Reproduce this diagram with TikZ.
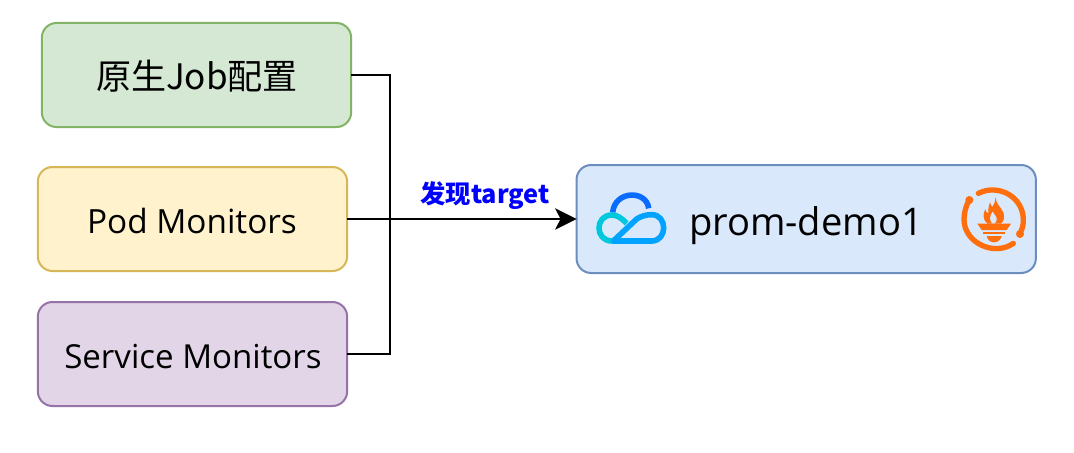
\documentclass[tikz,border=0pt]{standalone}
\usepackage{fontspec}
\setmainfont{Open Sans}
\newfontfamily\cjk{Noto Sans CJK SC}
\usetikzlibrary{arrows.meta}
\definecolor{jobfill}{HTML}{D5E8D4}
\definecolor{jobline}{HTML}{82B366}
\definecolor{podfill}{HTML}{FFF2CC}
\definecolor{podline}{HTML}{D6B656}
\definecolor{svcfill}{HTML}{E1D5E7}
\definecolor{svcline}{HTML}{9673A6}
\definecolor{promfill}{HTML}{DAE8FC}
\definecolor{promline}{HTML}{6C8EBF}
\definecolor{iconblue}{HTML}{0A6CFF}
\definecolor{iconsky}{HTML}{00A3FF}
\definecolor{iconcyan}{HTML}{00C8DC}
\definecolor{promorange}{HTML}{FF6E0D}
\begin{document}
\begin{tikzpicture}[x=0.75pt,y=-0.75pt,
  boxnode/.style={rectangle, rounded corners=11pt, line width=1.5pt, outer sep=0pt, minimum width=232pt, minimum height=78pt, inner sep=0pt},
  linkline/.style={line width=2pt, draw=black},
  cloudline/.style={line width=4.2pt},
  ringline/.style={line width=4pt, line cap=round, draw=promorange}]
\useasboundingbox (0,0) rectangle (1074,453);
\node[boxnode, draw=jobline, fill=jobfill] (Job) at (196.5,75) {};
\node[boxnode, draw=podline, fill=podfill] (Pod) at (192.5,219) {};
\node[boxnode, draw=svcline, fill=svcfill] (Service) at (192.5,354) {};
\node[boxnode, minimum width=344.5pt, minimum height=81pt, draw=promline, fill=promfill] (Prom) at (806.2,219) {};
\node[font=\cjk\fontsize{26.3}{30}\selectfont] (JobText) at (197,76) {原生Job配置};
\node[font=\fontsize{25}{30}\selectfont] (PodText) at (192,221) {Pod Monitors};
\node[font=\fontsize{24.8}{30}\selectfont] (ServiceText) at (193,357) {Service Monitors};
\node[font=\fontsize{28.6}{34}\selectfont] (PromText) at (806,226) {prom-demo1};
\node[font=\cjk\bfseries\fontsize{19}{22}\selectfont, text=blue] (Found) at (485,196) {发现target};
\coordinate (Join) at (390,219);
\draw[linkline] (Job.east) -| (Join);
\draw[linkline] (Service.east) -| (Join);
\draw[linkline, -{Stealth[length=16pt,width=16pt,inset=4pt]}] (Pod.east) -- (Prom.west);
\begin{scope}[shift={(570,155)},x=0.25pt,y=-0.25pt]
\draw[cloudline, iconblue] (128,172) .. controls (135,105) and (230,105) .. (236,160);
\draw[cloudline, iconcyan] (135,258) -- (126,258) .. controls (74,258) and (74,180) .. (126,180) .. controls (142,180) and (155,190) .. (170,205);
\draw[cloudline, iconsky, line join=round] (130,258) -- (200,192) .. controls (212,184) and (228,179) .. (245,179) .. controls (293,179) and (293,258) .. (245,258) -- cycle;
\end{scope}
\begin{scope}[shift={(940,165)},x=0.25pt,y=-0.25pt]
\draw[ringline] (115,85) .. controls (175,55) and (250,95) .. (250,165) .. controls (250,180) and (247,192) .. (240,205);
\draw[ringline] (220,235) .. controls (165,275) and (72,235) .. (72,163) .. controls (72,143) and (78,122) .. (88,105);
\fill[promorange] (88,105) circle (12) (240,207) circle (12);
\fill[promorange] (167,97) .. controls (168,125) and (195,130) .. (192,160) .. controls (191,168) and (187,173) .. (182,176) -- (142,176) .. controls (128,165) and (128,145) .. (136,133) .. controls (137,140) and (140,143) .. (145,145) .. controls (143,130) and (148,120) .. (150,112) .. controls (152,120) and (155,123) .. (157,126) .. controls (163,118) and (166,108) .. (167,97) -- cycle;
\fill[promfill] (158,140) .. controls (160,150) and (172,152) .. (170,165) .. controls (169,170) and (166,174) .. (163,176) -- (157,176) .. controls (148,168) and (148,152) .. (158,140) -- cycle;
\fill[promorange] (112,176) -- (213,176) -- (200,195) -- (125,195) -- cycle;
\fill[promorange] (130,200) -- (195,200) -- (195,208) -- (130,208) -- cycle;
\fill[promorange] (140,213) -- (185,213) .. controls (183,225) and (172,232) .. (162,232) .. controls (152,232) and (142,225) .. (140,213) -- cycle;
\end{scope}
\end{tikzpicture}
\end{document}
